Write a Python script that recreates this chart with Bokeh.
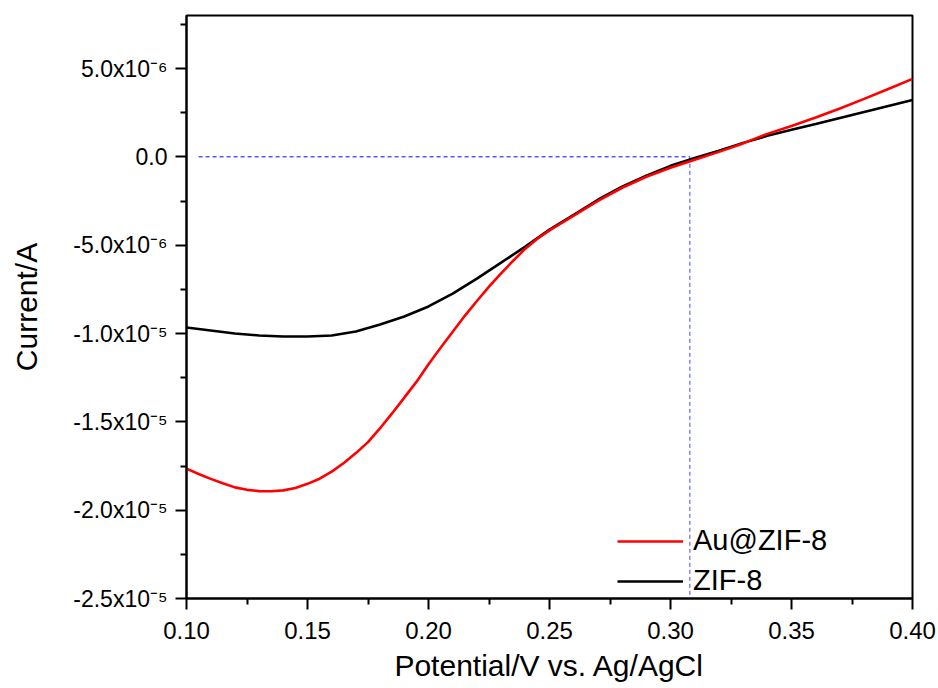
from bokeh.plotting import figure
from bokeh.models import FixedTicker, Legend, LegendItem
from bokeh.embed import file_html
from bokeh.resources import INLINE

# Potential (V vs. Ag/AgCl) and current (units of 1e-6 A)
potential_au = [0.100, 0.105, 0.110, 0.115, 0.120, 0.125, 0.130, 0.135, 0.140, 0.145,
                0.150, 0.155, 0.160, 0.165, 0.170, 0.175, 0.180, 0.185, 0.190, 0.195,
                0.200, 0.205, 0.210, 0.215, 0.220, 0.225, 0.230, 0.235, 0.240, 0.245,
                0.250, 0.26, 0.27, 0.28, 0.29, 0.30, 0.31, 0.32, 0.33, 0.34,
                0.35, 0.36, 0.37, 0.38, 0.39, 0.40]
au_zif8 = [-17.65, -17.95, -18.23, -18.48, -18.71, -18.85, -18.92, -18.93, -18.88, -18.74,
           -18.51, -18.22, -17.82, -17.33, -16.77, -16.15, -15.36, -14.51, -13.63, -12.74,
           -11.74, -10.81, -9.90, -9.00, -8.16, -7.35, -6.60, -5.88, -5.20, -4.64,
           -4.16, -3.33, -2.49, -1.75, -1.13, -0.62, -0.17, 0.28, 0.76, 1.30,
           1.75, 2.23, 2.74, 3.28, 3.84, 4.41]

potential_zif = [0.10, 0.11, 0.12, 0.13, 0.14, 0.15, 0.16, 0.17, 0.18, 0.19, 0.20,
                 0.21, 0.22, 0.23, 0.24, 0.25, 0.26, 0.27, 0.28, 0.29, 0.30,
                 0.31, 0.32, 0.33, 0.34, 0.35, 0.36, 0.37, 0.38, 0.39, 0.40]
zif8 = [-9.66, -9.83, -10.00, -10.11, -10.17, -10.17, -10.11, -9.89, -9.49, -9.04, -8.47,
        -7.74, -6.89, -5.99, -5.08, -4.12, -3.28, -2.43, -1.69, -1.07, -0.51,
        -0.06, 0.34, 0.79, 1.19, 1.53, 1.86, 2.20, 2.54, 2.88, 3.22]

series_names = ["Au@ZIF-8", "ZIF-8"]
series_colors = ["#ff0000", "#000000"]

# reference markers
onset_potential = 0.308
guide_start = 0.105

x_ticks = [0.10, 0.15, 0.20, 0.25, 0.30, 0.35, 0.40]
x_tick_labels = ["0.10", "0.15", "0.20", "0.25", "0.30", "0.35", "0.40"]
x_minor = [0.125, 0.175, 0.225, 0.275, 0.325, 0.375]
y_ticks = [-25.0, -20.0, -15.0, -10.0, -5.0, 0.0, 5.0]
y_tick_labels = ["-2.5x10\u207b\u2075", "-2.0x10\u207b\u2075", "-1.5x10\u207b\u2075",
                 "-1.0x10\u207b\u2075", "-5.0x10\u207b\u2076", "0.0", "5.0x10\u207b\u2076"]
y_minor = [-22.5, -17.5, -12.5, -7.5, -2.5, 2.5, 7.5]

FONT = "Liberation Sans"

p = figure(width=938, height=688, output_backend="svg", toolbar_location=None,
           x_range=(0.10, 0.40), y_range=(-25.0, 8.0),
           min_border_left=186, min_border_right=26, min_border_top=15, min_border_bottom=90)
p.xgrid.visible = False
p.ygrid.visible = False
p.outline_line_color = "#000000"
p.outline_line_width = 2
p.background_fill_color = "white"
p.border_fill_color = "white"

# guide lines
p.segment(x0=[guide_start], y0=[0.0], x1=[onset_potential], y1=[0.0],
          line_color="#0000ff", line_width=1, line_dash="4 3")
p.segment(x0=[onset_potential], y0=[0.0], x1=[onset_potential], y1=[-25.0],
          line_color="#4444ff", line_width=1, line_dash="4 3")

r_b = p.line(potential_zif, zif8, line_color=series_colors[1], line_width=2.6)
r_a = p.line(potential_au, au_zif8, line_color=series_colors[0], line_width=2.6)

legend = Legend(items=[LegendItem(label=series_names[0], renderers=[r_a]),
                       LegendItem(label=series_names[1], renderers=[r_b])],
                location=(431, 1), padding=0, spacing=7, glyph_width=66, glyph_height=30,
                label_height=30, label_standoff=10, border_line_color=None,
                background_fill_alpha=0, label_text_font=FONT, label_text_font_size="29px",
                label_text_color="#000000")
p.add_layout(legend)

for ax in (p.xaxis[0], p.yaxis[0]):
    ax.axis_line_width = 2
    ax.axis_line_color = "#000000"
    ax.major_tick_line_width = 2
    ax.minor_tick_line_width = 2
    ax.major_tick_in = 0
    ax.major_tick_out = 11
    ax.minor_tick_in = 0
    ax.minor_tick_out = 6
    ax.major_label_text_font = FONT
    ax.major_label_text_color = "#000000"
    ax.axis_label_text_font = FONT
    ax.axis_label_text_font_size = "30px"
    ax.axis_label_text_font_style = "normal"
    ax.axis_label_text_color = "#000000"

p.xaxis.ticker = FixedTicker(ticks=x_ticks, minor_ticks=x_minor)
p.xaxis.major_label_overrides = dict(zip(x_ticks, x_tick_labels))
p.xaxis.major_label_text_font_size = "24px"
p.xaxis.axis_label = "Potential/V vs. Ag/AgCl"
p.xaxis.major_label_standoff = 12
p.xaxis.axis_label_standoff = 7

p.yaxis.ticker = FixedTicker(ticks=y_ticks, minor_ticks=y_minor)
p.yaxis.major_label_overrides = dict(zip(y_ticks, y_tick_labels))
p.yaxis.major_label_text_font_size = "23px"
p.yaxis.axis_label = "Current/A"
p.yaxis.major_label_standoff = 8
p.yaxis.axis_label_standoff = 27

open("out.html", "w").write(file_html(p, INLINE))
